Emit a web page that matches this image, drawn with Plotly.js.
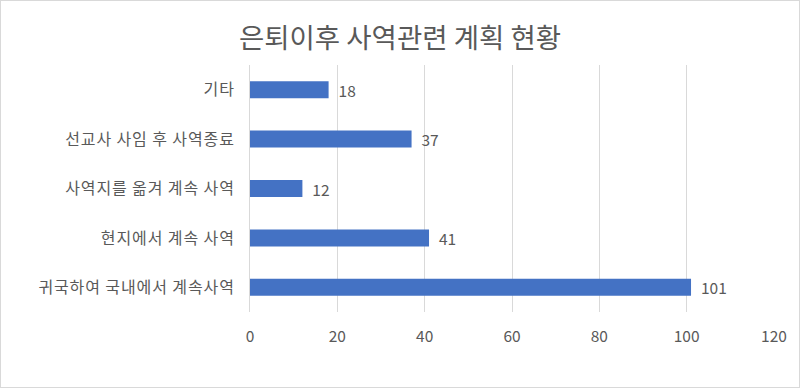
<!DOCTYPE html>
<html>
<head>
<meta charset="utf-8">
<script src="https://cdn.plot.ly/plotly-3.0.1.min.js"></script>
<style>
  html, body { margin: 0; padding: 0; background: #fff; }
  #wrap { position: relative; width: 800px; height: 388px; }
  #chart { width: 800px; height: 388px; }
  #frame { position: absolute; left: 0; top: 0; width: 800px; height: 388px; box-sizing: border-box; border: 1px solid #d9d9d9; pointer-events: none; }
  .ytick text { letter-spacing: 0.9px; }
</style>
</head>
<body>
<div id="wrap"><div id="chart"></div><div id="frame"></div></div>
<script>
const categories = ['귀국하여 국내에서 계속사역', '현지에서 계속 사역', '사역지를 옮겨 계속 사역', '선교사 사임 후 사역종료', '기타'];
const values = [101, 41, 12, 37, 18];
const tickVals = [0, 20, 40, 60, 80, 100, 120];

const font = '"Noto Sans CJK KR", "Noto Sans", sans-serif';
const gray = '#595959';

Plotly.newPlot('chart', [{
  type: 'bar',
  orientation: 'h',
  y: categories,
  x: values,
  marker: { color: '#4472C4' },
  text: values.map(v => '\u00a0\u00a0' + v),
  textposition: 'outside',
  constraintext: 'none',
  cliponaxis: false,
  textfont: { family: font, size: 15.5, color: gray },
  hoverinfo: 'none'
}], {
  width: 800,
  height: 388,
  margin: { l: 250, r: 26, t: 65, b: 76 },
  paper_bgcolor: '#ffffff',
  plot_bgcolor: '#ffffff',
  showlegend: false,
  bargap: 0.655,
  title: { text: '은퇴이후 사역관련 계획 현황', font: { family: font, size: 27.5, color: gray }, x: 0.5, xanchor: 'center', y: 0.902, yanchor: 'middle' },
  xaxis: {
    range: [0, 120],
    tickvals: tickVals,
    ticktext: tickVals.map(String),
    showgrid: true,
    gridcolor: '#d9d9d9',
    gridwidth: 1,
    zeroline: false,
    showline: false,
    ticks: '',
    ticklabelstandoff: 13,
    tickfont: { family: font, size: 15.5, color: gray },
    fixedrange: true
  },
  yaxis: {
    categoryorder: 'array',
    categoryarray: categories,
    showgrid: false,
    zeroline: false,
    showline: true,
    linecolor: '#d9d9d9',
    linewidth: 1,
    ticks: '',
    ticklabelstandoff: 11,
    tickfont: { family: font, size: 16, color: gray },
    fixedrange: true
  }
}, { displayModeBar: false, staticPlot: true });
</script>
</body>
</html>
